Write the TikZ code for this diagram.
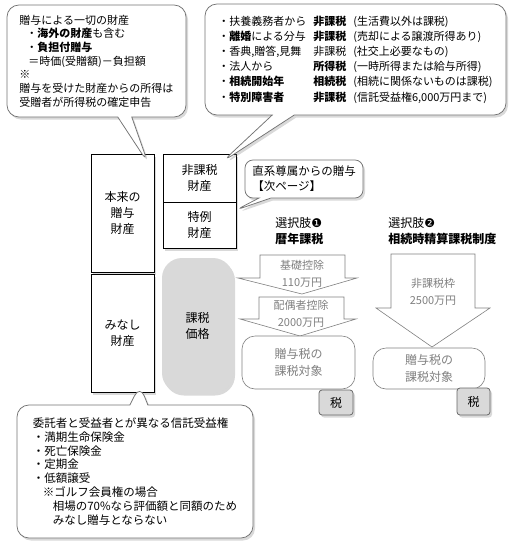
\documentclass[tikz,border=0pt]{standalone}
\usepackage{fontspec}
\setmainfont{Noto Sans CJK JP}
\newfontfamily\symfont{DejaVu Sans}
\usetikzlibrary{shapes.callouts,shadows}

\tikzset{every picture/.style={line width=0.75pt}}
\tikzset{
  kage/.style={drop shadow={shadow xshift=2pt, shadow yshift=-2.5pt, opacity=0.3}},
  zaisan/.style={draw=black, fill=white, align=center, inner sep=0pt, kage,
    font=\fontsize{12}{16}\selectfont},
  fukidashi/.style={rectangle callout, draw=black!55, fill=white, rounded corners=12pt,
    callout pointer width=14pt, align=left, inner sep=0pt, kage,
    font=\fontsize{11}{13.7}\selectfont},
  yajirushi/.style={draw=gray, fill=white, line width=0.6pt},
  yjtext/.style={text=gray, align=center, inner sep=0pt, font=\fontsize{11}{17}\selectfont},
  taisho/.style={draw=gray, fill=white, rounded corners=13pt, text=gray, align=center,
    inner sep=0pt, line width=0.6pt, font=\fontsize{12}{17}\selectfont},
  zeibox/.style={draw=black!60, fill=black!15, rounded corners=3pt, inner sep=0pt, kage,
    font=\fontsize{12}{14}\selectfont},
  midashi/.style={anchor=west, inner sep=0pt, font=\fontsize{12}{14}\selectfont}
}
\newcommand{\gyo}[3]{\makebox[11pt][l]{・}\makebox[84pt][l]{#1}\makebox[40pt][l]{#2}#3}

\begin{document}
\begin{tikzpicture}[x=1pt, y=-1pt]
        \useasboundingbox (0,0) rectangle (517,547);
        % zaisan no hako
        \node[zaisan, minimum width=63pt, minimum height=118pt] (honrai) at (122.5,213) {本来の\\贈与\\財産};
        \node[zaisan, minimum width=63pt, minimum height=118pt] (minashi) at (122.5,333) {みなし\\財産};
        \node[zaisan, minimum width=73pt, minimum height=48pt] (hikazei) at (199.5,178) {非課税\\財産};
        \node[zaisan, minimum width=73pt, minimum height=46pt] (tokurei) at (199.5,225) {特例\\財産};
        \node[zaisan, draw=none, fill=black!15, rounded corners=20pt, minimum width=71pt, minimum height=135pt] (kazei) at (197.5,325.5) {課税\\価格};
        % sentakushi
        \node[midashi] (sentaku1) at (275,223) {選択肢{\symfont ❶}};
        \node[midashi, font=\fontsize{12}{14}\selectfont\bfseries] (rekinen) at (275,239) {暦年課税};
        \node[midashi] (sentaku2) at (388,223) {選択肢{\symfont ❷}};
        \node[midashi, font=\fontsize{12}{14}\selectfont\bfseries] (seisan) at (388,239) {相続時精算課税制度};
        % yajirushi
        \draw[yajirushi] (260,255) -- (345,255) -- (345,278) -- (357,278) -- (302,294) -- (238,278) -- (260,278) -- cycle;
        \node[yjtext] (kiso) at (302,274) {基礎控除\\110万円};
        \draw[yajirushi] (259,297) -- (344,297) -- (344,319) -- (356,319) -- (300,336) -- (240,319) -- (259,319) -- cycle;
        \node[yjtext] (haigu) at (301,314) {配偶者控除\\2000万円};
        \draw[yajirushi] (391,254) -- (475,254) -- (475,308) -- (490,308) -- (432,347) -- (376,308) -- (391,308) -- cycle;
        \node[yjtext] (waku) at (433,292) {非課税枠\\2500万円};
        % kazei taisho
        \node[taisho, minimum width=113pt, minimum height=53pt] (taisho1) at (298.5,362.5) {贈与税の\\課税対象};
        \node[taisho, minimum width=112pt, minimum height=41pt] (taisho2) at (429,368.5) {贈与税の\\課税対象};
        \node[zeibox, minimum width=34pt, minimum height=25pt] (zei1) at (336,402.5) {税};
        \node[zeibox, minimum width=33pt, minimum height=27pt] (zei2) at (473.5,401.5) {税};
        % fukidashi
        \node[fukidashi, minimum width=179pt, minimum height=112pt, callout absolute pointer={(148,163)}] (issai) at (96.5,61)
          {贈与による一切の財産\\\hspace*{7pt}・\textbf{海外の財産}も含む\\\hspace*{7pt}・\textbf{負担付贈与}\\\hspace*{9pt}＝時価(受贈額)－負担額\\※\\贈与を受けた財産からの所得は\\受贈者が所得税の確定申告};
        \node[fukidashi, minimum width=301pt, minimum height=111pt, callout pointer width=22pt, callout absolute pointer={(222,162)},
          font=\fontsize{11}{15.2}\selectfont] (reigai) at (355.5,59.5)
          {\gyo{扶養義務者から}{\textbf{非課税}}{(生活費以外は課税)}\\
           \gyo{\textbf{離婚}による分与}{\textbf{非課税}}{(売却による譲渡所得あり)}\\
           \gyo{香典,贈答,見舞}{非課税}{(社交上必要なもの)}\\
           \gyo{法人から}{\textbf{所得税}}{(一時所得または給与所得)}\\
           \gyo{\textbf{相続開始年}}{\textbf{相続税}}{(相続に関係ないものは課税)}\\
           \gyo{\textbf{特別障害者}}{\textbf{非課税}}{(信託受益権6,000万円まで)}};
        \node[fukidashi, rounded corners=8pt, minimum width=118pt, minimum height=38pt, callout pointer width=12pt, callout absolute pointer={(236,210)},
          font=\fontsize{11.5}{15}\selectfont] (chokkei) at (304,179) {直系尊属からの贈与\\【次ページ】};
        \node[fukidashi, minimum width=236pt, minimum height=133pt, callout pointer width=18pt, callout absolute pointer={(140,385)},
          font=\fontsize{11.5}{13.9}\selectfont] (shintaku) at (135,471.5)
          {委託者と受益者とが異なる信託受益権\\・満期生命保険金\\・死亡保険金\\・定期金\\・低額譲受\\\hspace*{10pt}※ゴルフ会員権の場合\\\hspace*{20pt}相場の70\%なら評価額と同額のため\\\hspace*{20pt}みなし贈与とならない};
    \end{tikzpicture}
\end{document}
